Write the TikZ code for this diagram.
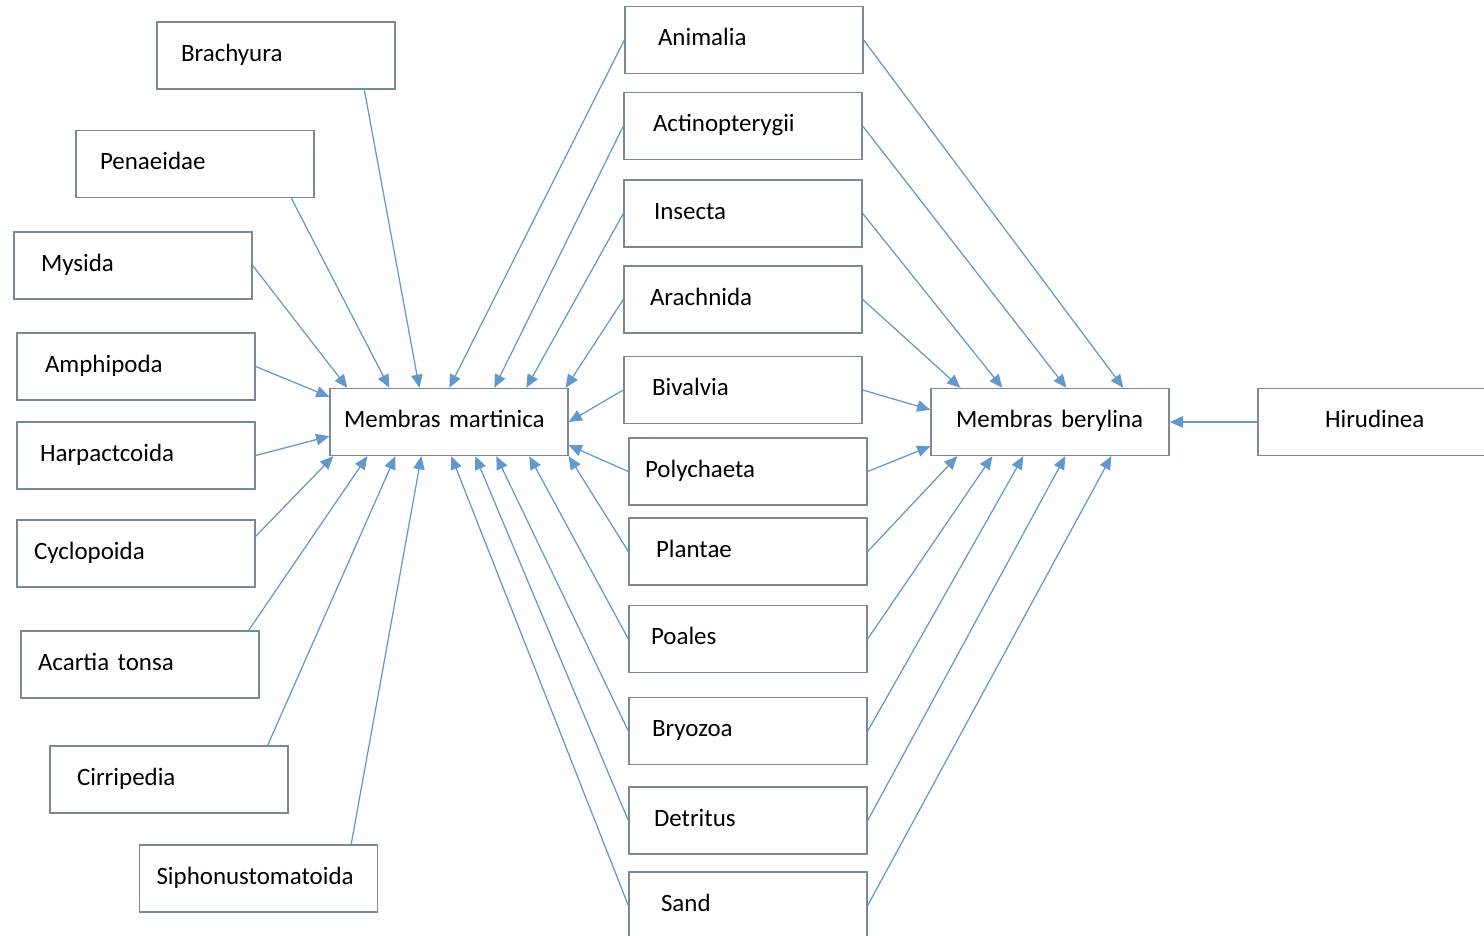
\documentclass[tikz,border=0pt]{standalone}
\usepackage{fontspec}
\setmainfont{Carlito}
\usetikzlibrary{arrows.meta}
\hyphenpenalty=10000
\definecolor{boxline}{RGB}{122,137,153}
\definecolor{linkblue}{RGB}{98,152,204}
\tikzset{>={Triangle[length=7.5pt,width=6.5pt]}}
\tikzset{
  taxon/.style={draw=boxline, line width=0.8pt, fill=white, minimum height=1.34cm,
    inner xsep=#1, text width=4.76cm-2*#1, align=left, text height=0.33cm, text depth=0.1cm},
  taxon/.default=0.48cm,
  link/.style={draw=linkblue, line width=0.7pt, ->}
}

\begin{document}
\begin{tikzpicture}[x=0.02cm, y=-0.02cm, font=\fontsize{14.2}{17}\selectfont]
  \useasboundingbox (0,0) rectangle (1484,936);
  % left column
  \node[taxon] (brachyura) at (276,55.5) {Brachyura};
  \node[taxon] (penaeidae) at (195,164) {Penaeidae};
  \node[taxon=0.54cm] (mysida) at (133,265.5) {Mysida};
  \node[taxon=0.56cm] (amphipoda) at (136,366.5) {Amphipoda};
  \node[taxon=0.46cm] (harpactcoida) at (136,455.5) {Harpactcoida};
  \node[taxon=0.34cm] (cyclopoida) at (136,553.5) {Cyclopoida};
  \node[taxon=0.34cm] (acartia) at (140,664.5) {Acartia tonsa};
  \node[taxon=0.54cm] (cirripedia) at (169,779.5) {Cirripedia};
  \node[taxon=0.34cm] (siphono) at (258.5,878.5) {Siphonustomatoida};
  % the two fish
  \node[taxon=0.28cm] (martinica) at (449,422) {Membras martinica};
  \node[taxon=0.5cm] (berylina) at (1050,422) {Membras berylina};
  \node[taxon=1.34cm] (hirudinea) at (1377,422) {Hirudinea};
  % middle column
  \node[taxon=0.66cm] (animalia) at (744,40) {Animalia};
  \node[taxon=0.58cm] (actino) at (743,126) {Actinopterygii};
  \node[taxon=0.6cm] (insecta) at (743,213.5) {Insecta};
  \node[taxon=0.52cm] (arachnida) at (743,299.5) {Arachnida};
  \node[taxon=0.56cm] (bivalvia) at (743,390) {Bivalvia};
  \node[taxon=0.32cm] (polychaeta) at (748,471.5) {Polychaeta};
  \node[taxon=0.54cm] (plantae) at (748,551.5) {Plantae};
  \node[taxon=0.44cm] (poales) at (748,639) {Poales};
  \node[taxon=0.46cm] (bryozoa) at (748,731) {Bryozoa};
  \node[taxon=0.5cm] (detritus) at (748,820.5) {Detritus};
  \node[taxon=0.64cm] (sand) at (748,905.5) {Sand};

  % left column -> martinica
  \draw[link] ([shift={(208,0)}]brachyura.south west) -- ([shift={(90,0)}]martinica.north west);
  \draw[link] ([shift={(216,0)}]penaeidae.south west) -- ([shift={(60,0)}]martinica.north west);
  \draw[link] (mysida.east) -- ([shift={(18,0)}]martinica.north west);
  \draw[link] (amphipoda.east) -- ([shift={(0,9)}]martinica.north west);
  \draw[link] (harpactcoida.east) -- ([shift={(0,-20)}]martinica.south west);
  \draw[link] ([shift={(0,17)}]cyclopoida.north east) -- ([shift={(4,0)}]martinica.south west);
  \draw[link] ([shift={(-11,0)}]acartia.north east) -- ([shift={(38,0)}]martinica.south west);
  \draw[link] ([shift={(-21,0)}]cirripedia.north east) -- ([shift={(66,0)}]martinica.south west);
  \draw[link] ([shift={(-27,0)}]siphono.north east) -- ([shift={(92,0)}]martinica.south west);

  % middle column -> martinica
  \draw[link] (animalia.west) -- ([shift={(120,0)}]martinica.north west);
  \draw[link] (actino.west) -- ([shift={(165,0)}]martinica.north west);
  \draw[link] (insecta.west) -- ([shift={(197,0)}]martinica.north west);
  \draw[link] (arachnida.west) -- ([shift={(-3,0)}]martinica.north east);
  \draw[link] (bivalvia.west) -- (martinica.east);
  \draw[link] (polychaeta.west) -- ([shift={(0,-11)}]martinica.south east);
  \draw[link] (plantae.west) -- (martinica.south east);
  \draw[link] (poales.west) -- ([shift={(200,0)}]martinica.south west);
  \draw[link] (bryozoa.west) -- ([shift={(167,0)}]martinica.south west);
  \draw[link] (detritus.west) -- ([shift={(146,0)}]martinica.south west);
  \draw[link] (sand.west) -- ([shift={(122,0)}]martinica.south west);

  % middle column -> berylina
  \draw[link] (animalia.east) -- ([shift={(193,0)}]berylina.north west);
  \draw[link] (actino.east) -- ([shift={(136,0)}]berylina.north west);
  \draw[link] (insecta.east) -- ([shift={(72,0)}]berylina.north west);
  \draw[link] (arachnida.east) -- ([shift={(30,0)}]berylina.north west);
  \draw[link] (bivalvia.east) -- ([shift={(0,22)}]berylina.north west);
  \draw[link] (polychaeta.east) -- ([shift={(0,-10)}]berylina.south west);
  \draw[link] (plantae.east) -- ([shift={(27,0)}]berylina.south west);
  \draw[link] (poales.east) -- ([shift={(62,0)}]berylina.south west);
  \draw[link] (bryozoa.east) -- ([shift={(93,0)}]berylina.south west);
  \draw[link] (detritus.east) -- ([shift={(135,0)}]berylina.south west);
  \draw[link] (sand.east) -- ([shift={(181,0)}]berylina.south west);
  \draw[link] (hirudinea.west) -- (berylina.east);
\end{tikzpicture}
\end{document}
